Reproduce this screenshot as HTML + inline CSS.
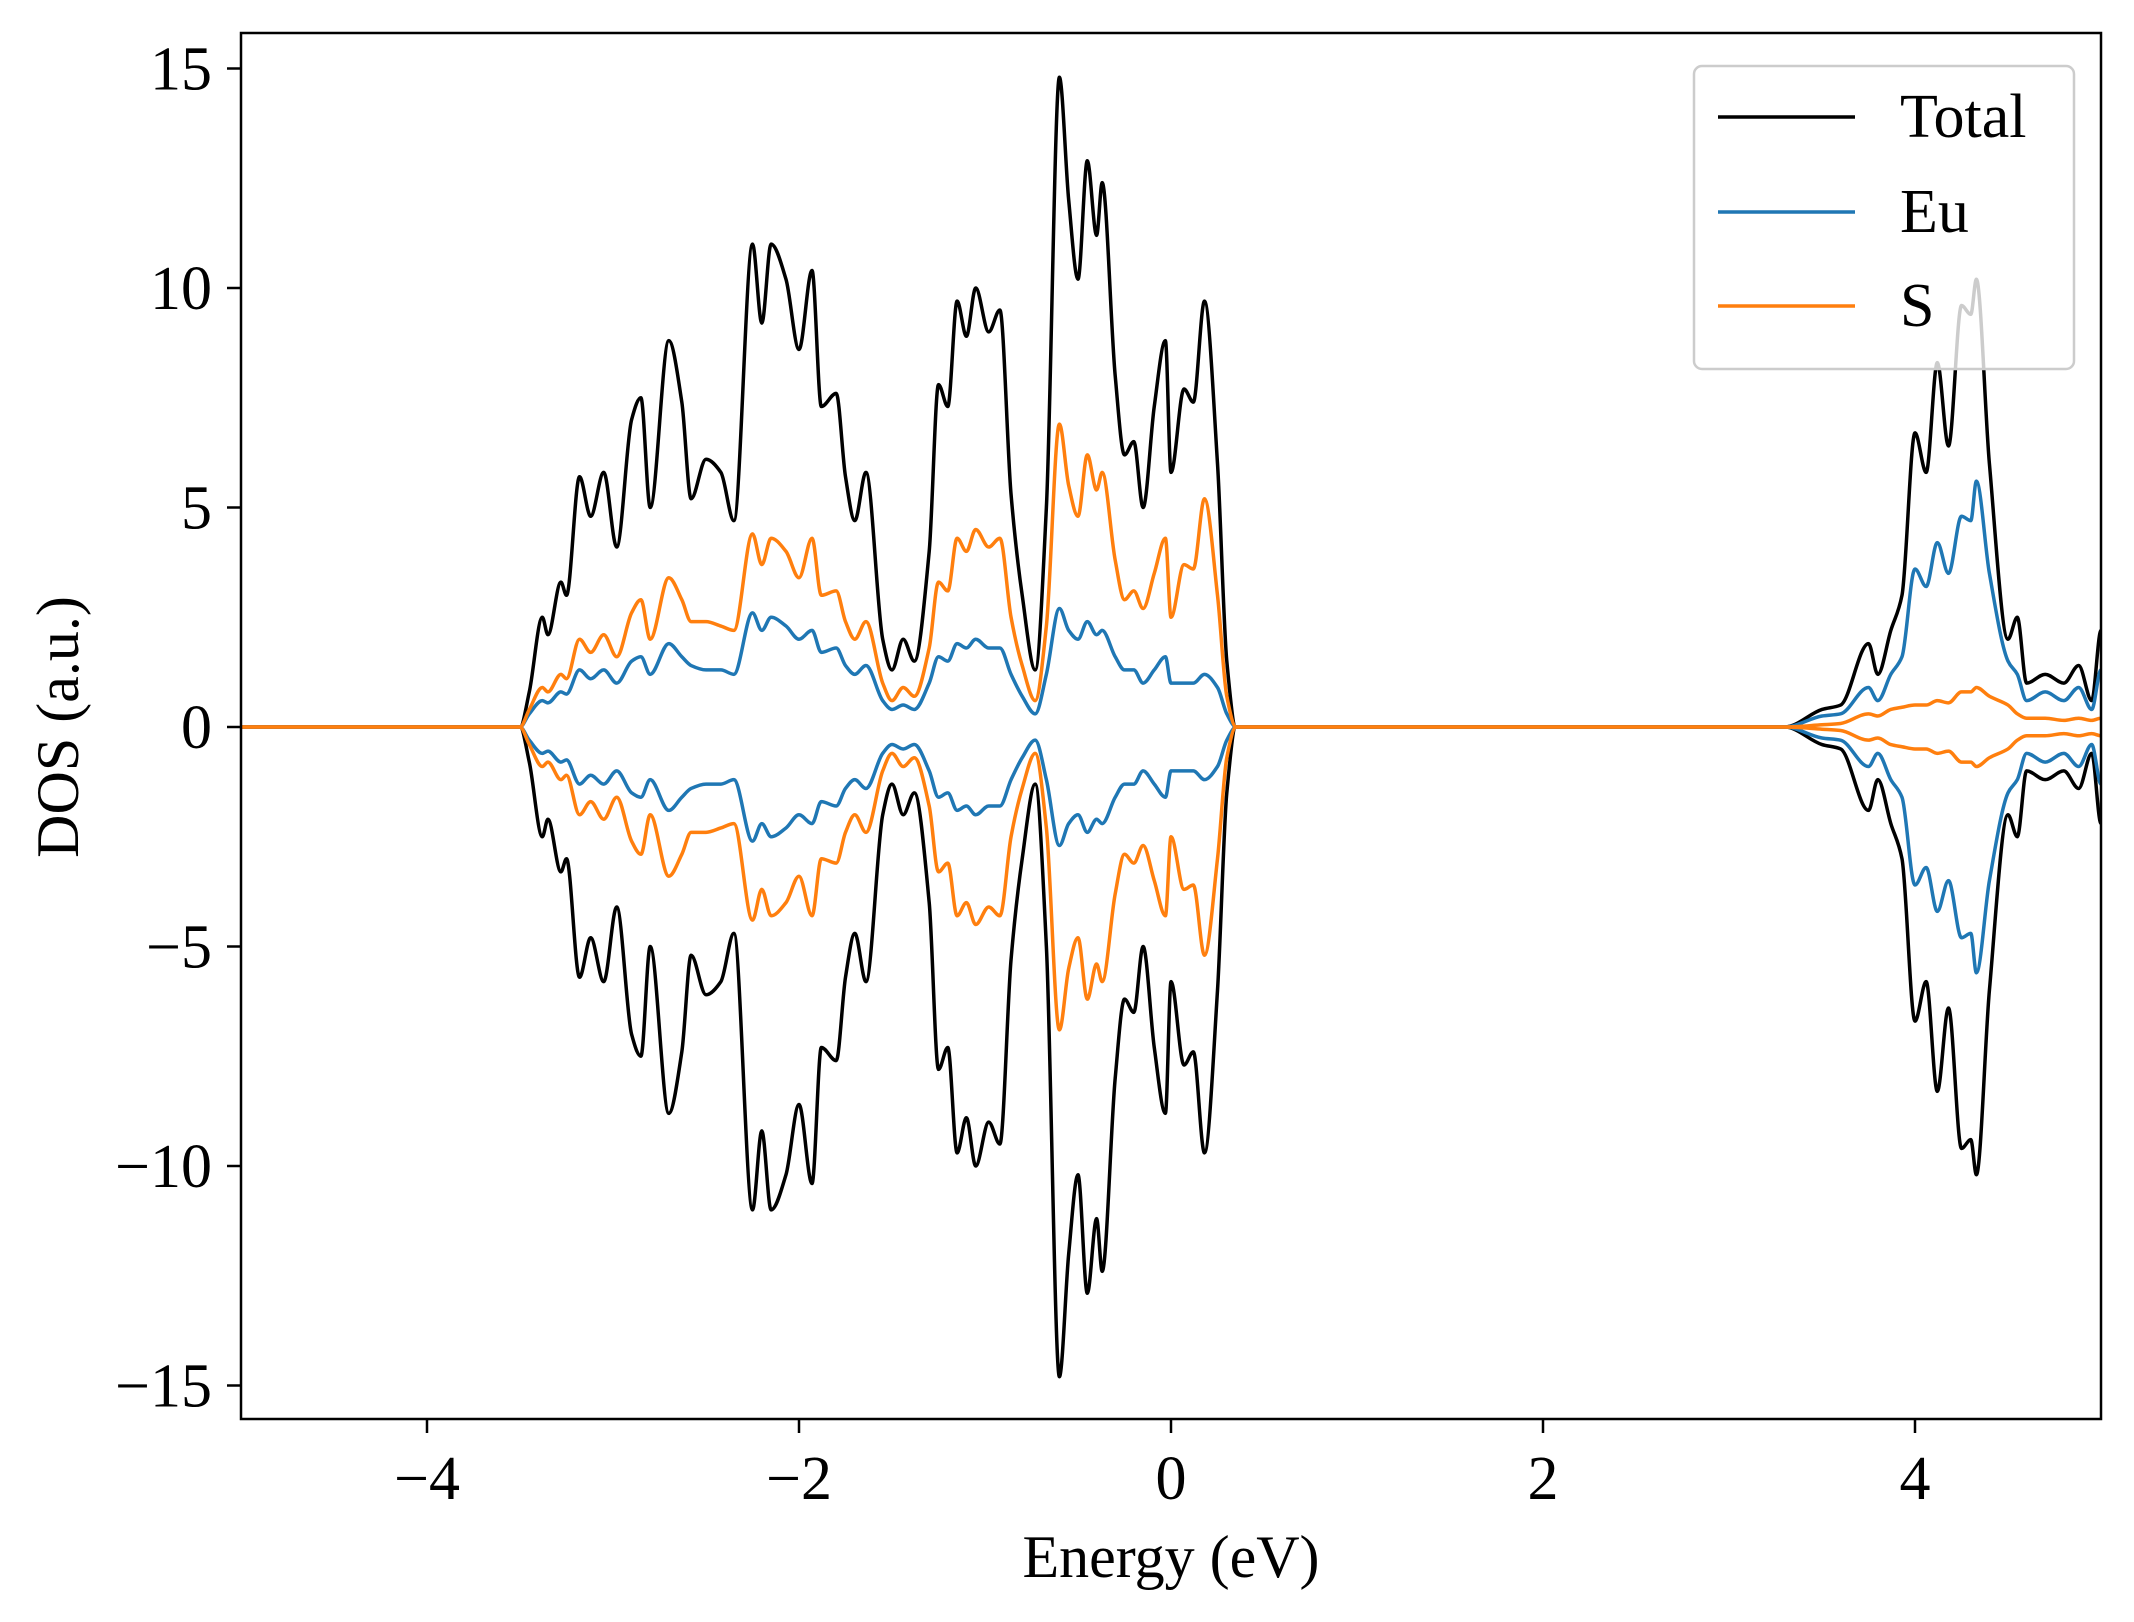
<!DOCTYPE html>
<html><head><meta charset="utf-8"><style>
body{margin:0;background:#fff}
svg text{font-family:"Liberation Serif",serif;fill:#000}
</style></head><body>
<svg id="chart" width="2134" height="1617" viewBox="0 0 2134 1617" xmlns="http://www.w3.org/2000/svg">
<rect width="2134" height="1617" fill="#fff"/>
<defs><clipPath id="clip"><rect x="241" y="33" width="1860" height="1386"/></clipPath></defs>
<g id="series" clip-path="url(#clip)"></g>
<rect x="241" y="33" width="1860" height="1386" fill="none" stroke="#000" stroke-width="2.5"/>
<g id="xticks"></g><g id="yticks"></g>
<text x="1171" y="1577" font-size="60" text-anchor="middle">Energy (eV)</text>
<text x="78" y="727" font-size="60" text-anchor="middle" transform="rotate(-90 78 727)">DOS (a.u.)</text>
<g>
<rect x="1694" y="66" width="380" height="303" rx="8" fill="#fff" fill-opacity="0.8" stroke="#ccc" stroke-width="2.5"/>
<line x1="1718" y1="117" x2="1855" y2="117" stroke="#000" stroke-width="3.5"/>
<text x="1900" y="137" font-size="62">Total</text>
<line x1="1718" y1="212" x2="1855" y2="212" stroke="#1f77b4" stroke-width="3.5"/>
<text x="1900" y="232" font-size="62">Eu</text>
<line x1="1718" y1="306" x2="1855" y2="306" stroke="#ff7f0e" stroke-width="3.5"/>
<text x="1900" y="326" font-size="62">S</text>
</g>
</svg>
<script>
const energy=[-5,-4.5,-4,-3.6,-3.5,-3.45,-3.38,-3.35,-3.28,-3.25,-3.18,-3.12,-3.05,-2.98,-2.9,-2.85,-2.8,-2.7,-2.63,-2.58,-2.5,-2.42,-2.35,-2.25,-2.2,-2.15,-2.07,-2.0,-1.93,-1.88,-1.8,-1.75,-1.7,-1.64,-1.55,-1.5,-1.44,-1.38,-1.3,-1.25,-1.2,-1.15,-1.1,-1.05,-0.98,-0.92,-0.86,-0.8,-0.73,-0.67,-0.6,-0.55,-0.5,-0.45,-0.4,-0.37,-0.3,-0.25,-0.2,-0.15,-0.09,-0.03,0.0,0.07,0.12,0.18,0.25,0.3,0.35,0.45,1,2,3,3.3,3.5,3.6,3.75,3.8,3.87,3.93,4.0,4.06,4.12,4.18,4.25,4.3,4.33,4.4,4.5,4.55,4.6,4.7,4.8,4.88,4.95,5.0];
const totalDos=[0,0,0,0,0,0.8,2.5,2.1,3.3,3.0,5.7,4.8,5.8,4.1,7.0,7.5,5.0,8.8,7.4,5.2,6.1,5.8,4.7,11.0,9.2,11.0,10.2,8.6,10.4,7.3,7.6,5.7,4.7,5.8,2.0,1.3,2.0,1.5,4.0,7.8,7.3,9.7,8.9,10.0,9.0,9.5,5.3,3.0,1.3,5.0,14.8,12.0,10.2,12.9,11.2,12.4,8.0,6.2,6.5,5.0,7.3,8.8,5.8,7.7,7.4,9.7,6.0,1.5,0,0,0,0,0,0,0.4,0.5,1.9,1.2,2.2,3.0,6.7,5.8,8.3,6.4,9.6,9.4,10.2,6.0,2.0,2.5,1.0,1.2,1.0,1.4,0.6,2.2];
const euDos=[0,0,0,0,0,0.3,0.6,0.55,0.8,0.75,1.3,1.1,1.3,1.0,1.5,1.6,1.2,1.9,1.6,1.4,1.3,1.3,1.2,2.6,2.2,2.5,2.3,2.0,2.2,1.7,1.8,1.4,1.2,1.4,0.6,0.4,0.5,0.4,1.0,1.6,1.5,1.9,1.8,2.0,1.8,1.8,1.2,0.7,0.3,1.2,2.7,2.2,2.0,2.4,2.1,2.2,1.6,1.3,1.3,1.0,1.3,1.6,1.0,1.0,1.0,1.2,0.9,0.3,0,0,0,0,0,0,0.25,0.3,0.9,0.6,1.2,1.6,3.6,3.2,4.2,3.5,4.8,4.7,5.6,3.5,1.5,1.2,0.6,0.8,0.6,0.9,0.4,1.3];
const sDos=[0,0,0,0,0,0.4,0.9,0.8,1.2,1.1,2.0,1.7,2.1,1.6,2.6,2.9,2.0,3.4,2.9,2.4,2.4,2.3,2.2,4.4,3.7,4.3,4.0,3.4,4.3,3.0,3.1,2.4,2.0,2.4,1.0,0.6,0.9,0.7,1.8,3.3,3.1,4.3,4.0,4.5,4.1,4.3,2.5,1.4,0.6,2.3,6.9,5.5,4.8,6.2,5.4,5.8,3.8,2.9,3.1,2.7,3.5,4.3,2.5,3.7,3.6,5.2,3.0,0.7,0,0,0,0,0,0,0.05,0.08,0.3,0.25,0.4,0.45,0.5,0.5,0.6,0.55,0.8,0.8,0.9,0.7,0.5,0.3,0.2,0.2,0.15,0.2,0.15,0.2];
const xTicks=[-4,-2,0,2,4];
const yTicks=[-15,-10,-5,0,5,10,15];
const NS="http://www.w3.org/2000/svg";
const xS=e=>241+(e+5)/10*1860;
const yS=v=>727-v*43.9;
function pathFor(vals,sign){
  const p=energy.map((e,i)=>[xS(e),yS(sign*vals[i])]);
  const n=p.length;
  const m=p.map((q,i)=>{
    if(i===0||i===n-1)return 0;
    const s1=(p[i][1]-p[i-1][1])/(p[i][0]-p[i-1][0]);
    const s2=(p[i+1][1]-p[i][1])/(p[i+1][0]-p[i][0]);
    if(s1*s2<=0)return 0;
    return 2/(1/s1+1/s2);
  });
  let d="M"+p[0][0]+","+p[0][1];
  for(let i=0;i<n-1;i++){
    const dx=(p[i+1][0]-p[i][0])/3;
    d+=` C${p[i][0]+dx},${p[i][1]+m[i]*dx} ${p[i+1][0]-dx},${p[i+1][1]-m[i+1]*dx} ${p[i+1][0]},${p[i+1][1]}`;
  }
  return d;
}
const g=document.getElementById("series");
[["total",totalDos,"#000"],["eu",euDos,"#1f77b4"],["s",sDos,"#ff7f0e"]].forEach(([n,v,c])=>{
  [[1,"up"],[-1,"down"]].forEach(([s,lab])=>{
    const el=document.createElementNS(NS,"path");
    el.setAttribute("d",pathFor(v,s));
    el.setAttribute("fill","none");el.setAttribute("stroke",c);el.setAttribute("stroke-width","3.5");
    el.setAttribute("stroke-linejoin","round");
    
    
    g.appendChild(el);
  });
});
const xt=document.getElementById("xticks");
xTicks.forEach(t=>{
  const l=document.createElementNS(NS,"line");
  l.setAttribute("x1",xS(t));l.setAttribute("x2",xS(t));l.setAttribute("y1",1419);l.setAttribute("y2",1433);
  l.setAttribute("stroke","#000");l.setAttribute("stroke-width","2.5");
  
  
  xt.appendChild(l);
  const tx=document.createElementNS(NS,"text");
  tx.setAttribute("x",xS(t));tx.setAttribute("y",1499);tx.setAttribute("font-size","62");tx.setAttribute("text-anchor","middle");
  tx.textContent=(t<0?"\u2212":"")+Math.abs(t);
  
  
  xt.appendChild(tx);
});
const yt=document.getElementById("yticks");
yTicks.forEach(t=>{
  const l=document.createElementNS(NS,"line");
  l.setAttribute("x1",227);l.setAttribute("x2",241);l.setAttribute("y1",yS(t));l.setAttribute("y2",yS(t));
  l.setAttribute("stroke","#000");l.setAttribute("stroke-width","2.5");
  
  
  yt.appendChild(l);
  const tx=document.createElementNS(NS,"text");
  tx.setAttribute("x",212);tx.setAttribute("y",yS(t)+21);tx.setAttribute("font-size","62");tx.setAttribute("text-anchor","end");
  tx.textContent=(t<0?"\u2212":"")+Math.abs(t);
  
  
  yt.appendChild(tx);
});
</script>
</body></html>
